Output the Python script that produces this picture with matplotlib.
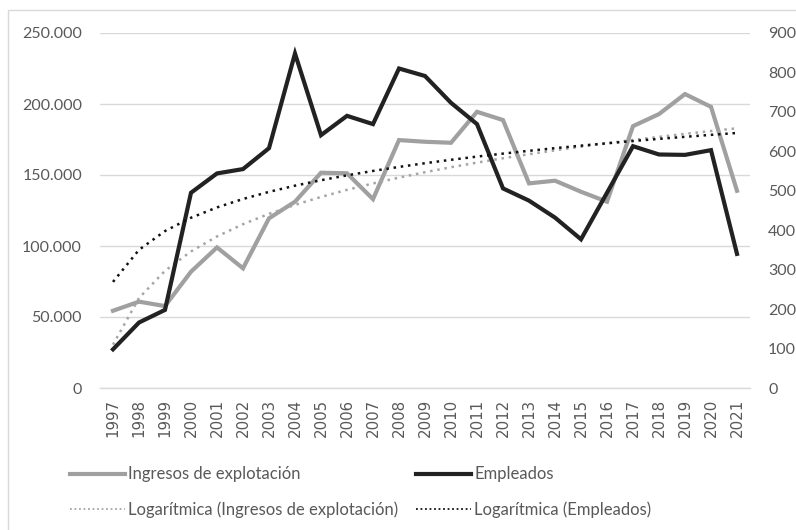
import numpy as np
import matplotlib
matplotlib.use("Agg")
import matplotlib.pyplot as plt
from matplotlib.lines import Line2D
from matplotlib.patches import Rectangle

years = [str(y) for y in range(1997, 2022)]
ingresos = [54400, 60800, 57700, 81900, 99000, 84300, 119500, 131200, 151600, 151200,
            133000, 174600, 173400, 172700, 194500, 188700, 144100, 146000, 138200, 131200,
            184400, 192900, 207000, 198000, 138900]
empleados = [98, 166, 198, 495, 544, 555, 608, 848, 641, 690,
             669, 810, 791, 723, 669, 506, 475, 432, 377, 495,
             613, 592, 591, 603, 340]
left_ticks = [0, 50000, 100000, 150000, 200000, 250000]
left_labels = ["0", "50.000", "100.000", "150.000", "200.000", "250.000"]
right_ticks = [0, 100, 200, 300, 400, 500, 600, 700, 800, 900]
labels = ["Ingresos de explotación", "Empleados",
          "Logarítmica (Ingresos de explotación)", "Logarítmica (Empleados)"]

FONT = ["Lato", "DejaVu Sans"]
plt.rcParams["font.family"] = FONT
TXT = "#595959"
GRID = "#D9D9D9"
C_ING = "#A0A0A0"
C_EMP = "#222222"

W, H = 796, 530
fig = plt.figure(figsize=(W / 100, H / 100), dpi=100)
ax = fig.add_axes([100 / W, 1 - 388 / H, 650 / W, 355 / H])
ax2 = ax.twinx()

x = np.arange(len(years))
lx = np.log(x + 1)

# primary series + trend
ax.plot(x, ingresos, color=C_ING, lw=3.0, solid_joinstyle="miter", zorder=3)
a1, b1 = np.polyfit(lx, ingresos, 1)
ax.plot(x, a1 * lx + b1, color="#A5A5A5", lw=1.8, linestyle=(0, (1, 1.9)), zorder=4)

# secondary series + trend
ax2.plot(x, empleados, color=C_EMP, lw=3.0, solid_joinstyle="miter", zorder=3)
a2, b2 = np.polyfit(lx, empleados, 1)
ax2.plot(x, a2 * lx + b2, color="#111111", lw=1.8, linestyle=(0, (1, 1.9)), zorder=4)

ax.set_xlim(-0.5, len(years) - 0.5)
ax.set_ylim(0, 250000)
ax2.set_ylim(0, 900)

ax.set_yticks(left_ticks)
ax.set_yticklabels(left_labels)
ax2.set_yticks(right_ticks)
ax2.set_yticklabels([str(t) for t in right_ticks])
ax.set_xticks(x)
ax.set_xticklabels(years, rotation=90, family=["DejaVu Sans"], fontsize=10.8)

ax.tick_params(axis="y", length=0, pad=13, labelsize=11.5, colors=TXT)
ax2.tick_params(axis="y", length=0, pad=13, labelsize=11.5, colors=TXT)
ax.tick_params(axis="x", length=0, pad=8, colors=TXT)

ax.grid(axis="y", color=GRID, lw=1.0)
ax.set_axisbelow(True)
for sp in ["top", "left", "right"]:
    ax.spines[sp].set_visible(False)
    ax2.spines[sp].set_visible(False)
ax.spines["bottom"].set_color(GRID)
ax.spines["bottom"].set_linewidth(1.0)
ax2.spines["bottom"].set_visible(False)

# legend (two columns placed separately)
h_ing = Line2D([], [], color=C_ING, lw=3.0)
h_emp = Line2D([], [], color=C_EMP, lw=3.0)
h_ting = Line2D([], [], color="#A5A5A5", lw=1.3, linestyle=(0, (1, 1.5)))
h_temp = Line2D([], [], color="#111111", lw=1.3, linestyle=(0, (1, 1.5)))
ycen = 1 - 492 / H
common = dict(loc="center left", frameon=False, fontsize=12, handlelength=3.3,
              handletextpad=0.2, borderpad=0, borderaxespad=0, labelspacing=1.12,
              labelcolor=TXT)
fig.legend([h_ing, h_ting], [labels[0], labels[2]], bbox_to_anchor=(70 / W, ycen), **common)
fig.legend([h_emp, h_temp], [labels[1], labels[3]], bbox_to_anchor=(416 / W, ycen), **common)

# chart border (left and top visible)
fig.patches.append(Rectangle((8 / W, -0.1), 1.2, 1 - 10 / H + 0.1, transform=fig.transFigure,
                             fill=False, edgecolor=GRID, lw=1.0))

fig.savefig("out.png", dpi=100)
